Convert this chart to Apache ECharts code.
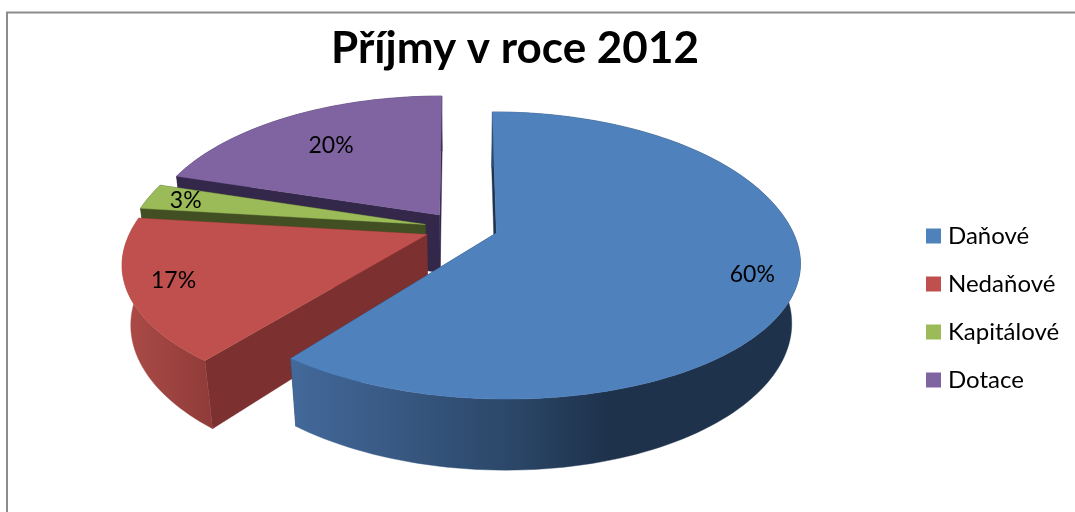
<!DOCTYPE html>
<html>
<head>
<meta charset="utf-8">
<style>html,body{margin:0;padding:0;background:#fff}#chart{width:1075px;height:512px}</style>
<script src="https://cdn.jsdelivr.net/npm/echarts@6/dist/echarts.min.js"></script>
</head>
<body>
<div id="chart"></div>
<script>
// Income by source, percent of the year's total
const titleText = 'Příjmy v roce 2012';
const categories = ['Daňové', 'Nedaňové', 'Kapitálové', 'Dotace'];
const shares = [60, 17, 3, 20];

// Slice palettes: top face, radial wall, outer wall gradient stops
const topColors = ['#4F81BD', '#C0504D', '#9BBB59', '#8064A2'];
const wallColors = ['#1E324C', '#7C302F', '#414F22', '#33274A'];
const rimStops = [
  [[0, '#43699A'], [0.45, '#2A4566'], [0.62, '#1E324C'], [1, '#1E324C']],
  [[0, '#AC4B47'], [1, '#8E3B39']],
  [[0, '#414F22'], [1, '#414F22']],
  [[0, '#33274A'], [1, '#33274A']]
];
const rimSpan = [[292, 800], [125, 215], [140, 165], [178, 442]];

// Projection of the tilted disc; the near half is foreshortened more strongly than the far half
const view = {
  cx: 461, cy: 228, rx: 295,
  ry: 130, ryBias: 5,
  persp: 0.175, perspCurve: 0.055,
  depth: 60, sink: 0.025, explode: 0.125, startDeg: 0
};
const labelReach = [0.85, 0.84, 0.85, 0.7];
const labelShift = [[1, 6], [-5, 0], [-4, 0], [1, 0]];

function project(x, y, z) {
  const w = 1 - view.persp * y - view.perspCurve * y * y + view.sink * z;
  const ry = view.ry - view.ryBias * Math.tanh(3 * y);
  return [view.cx + view.rx * x / w, view.cy + (ry * y + view.depth * z) / w];
}

const total = shares.reduce((a, b) => a + b, 0);
function sliceAngles(i) {
  const before = shares.slice(0, i).reduce((a, b) => a + b, 0);
  const a0 = view.startDeg + before / total * 360;
  return [a0, a0 + shares[i] / total * 360];
}

function renderSlice(i, api) {
  const [a0, a1] = sliceAngles(i);
  const rad = d => d * Math.PI / 180;
  const mid = rad((a0 + a1) / 2);
  const ox = Math.sin(mid) * view.explode;
  const oy = -Math.cos(mid) * view.explode;
  const rim = d => [ox + Math.sin(rad(d)), oy - Math.cos(rad(d))];

  const steps = Math.max(8, Math.round((a1 - a0) / 1.5));
  const topArc = [], lowArc = [];
  for (let s = 0; s <= steps; s++) {
    const [x, y] = rim(a0 + (a1 - a0) * s / steps);
    topArc.push(project(x, y, 0));
    lowArc.push(project(x, y, 1));
  }
  const apexTop = project(ox, oy, 0);
  const apexLow = project(ox, oy, 1);
  const poly = (points, fill) => ({
    type: 'polygon',
    shape: { points },
    style: { fill, stroke: fill, lineWidth: 0.4 }
  });
  const radialWall = d => {
    const [x, y] = rim(d);
    return poly([apexTop, project(x, y, 0), project(x, y, 1), apexLow], wallColors[i]);
  };
  const rimFill = {
    type: 'linear', global: true,
    x: rimSpan[i][0], y: 0, x2: rimSpan[i][1], y2: 0,
    colorStops: rimStops[i].map(([offset, color]) => ({ offset, color }))
  };
  const labelPos = project(
    ox + Math.sin(mid) * labelReach[i],
    oy - Math.cos(mid) * labelReach[i],
    0
  );
  return {
    type: 'group',
    children: [
      radialWall(a0),
      radialWall(a1),
      poly(topArc.concat(lowArc.slice().reverse()), rimFill),
      poly([apexTop].concat(topArc), topColors[i]),
      {
        type: 'text',
        z2: 10,
        style: {
          x: labelPos[0] + labelShift[i][0], y: labelPos[1] + labelShift[i][1],
          text: api.value(0) + '%',
          fill: '#000', align: 'center', verticalAlign: 'middle',
          font: '23px Lato'
        }
      }
    ]
  };
}

// Painted back to front so nearer slices hide the walls behind them
const paintOrder = [3, 2, 1, 0];
const series = paintOrder.map(i => ({
  type: 'custom',
  name: categories[i],
  coordinateSystem: 'none',
  silent: true,
  itemStyle: { color: topColors[i] },
  data: [[shares[i]]],
  renderItem: (params, api) => renderSlice(i, api)
}));

const chart = echarts.init(document.getElementById('chart'), null, { renderer: 'canvas' });
chart.setOption({
  animation: false,
  backgroundColor: '#fff',
  title: {
    text: titleText,
    left: 510, top: 22,
    textAlign: 'center',
    textStyle: { fontFamily: 'Lato', fontWeight: 'bold', fontSize: 44, color: '#000' }
  },
  legend: {
    data: categories,
    orient: 'vertical',
    left: 926, top: 224,
    padding: 0,
    icon: 'rect',
    itemWidth: 15, itemHeight: 15, itemGap: 24,
    selectedMode: false,
    textStyle: { fontFamily: 'Lato', fontSize: 24, color: '#000', padding: [0, 0, 0, 2] }
  },
  graphic: [{
    type: 'polyline',
    silent: true,
    shape: { points: [[7, 512], [7, 12.5], [1075, 12.5]] },
    style: { stroke: '#8C8C8C', lineWidth: 2, fill: 'none' }
  }],
  series
});
</script>
</body>
</html>
